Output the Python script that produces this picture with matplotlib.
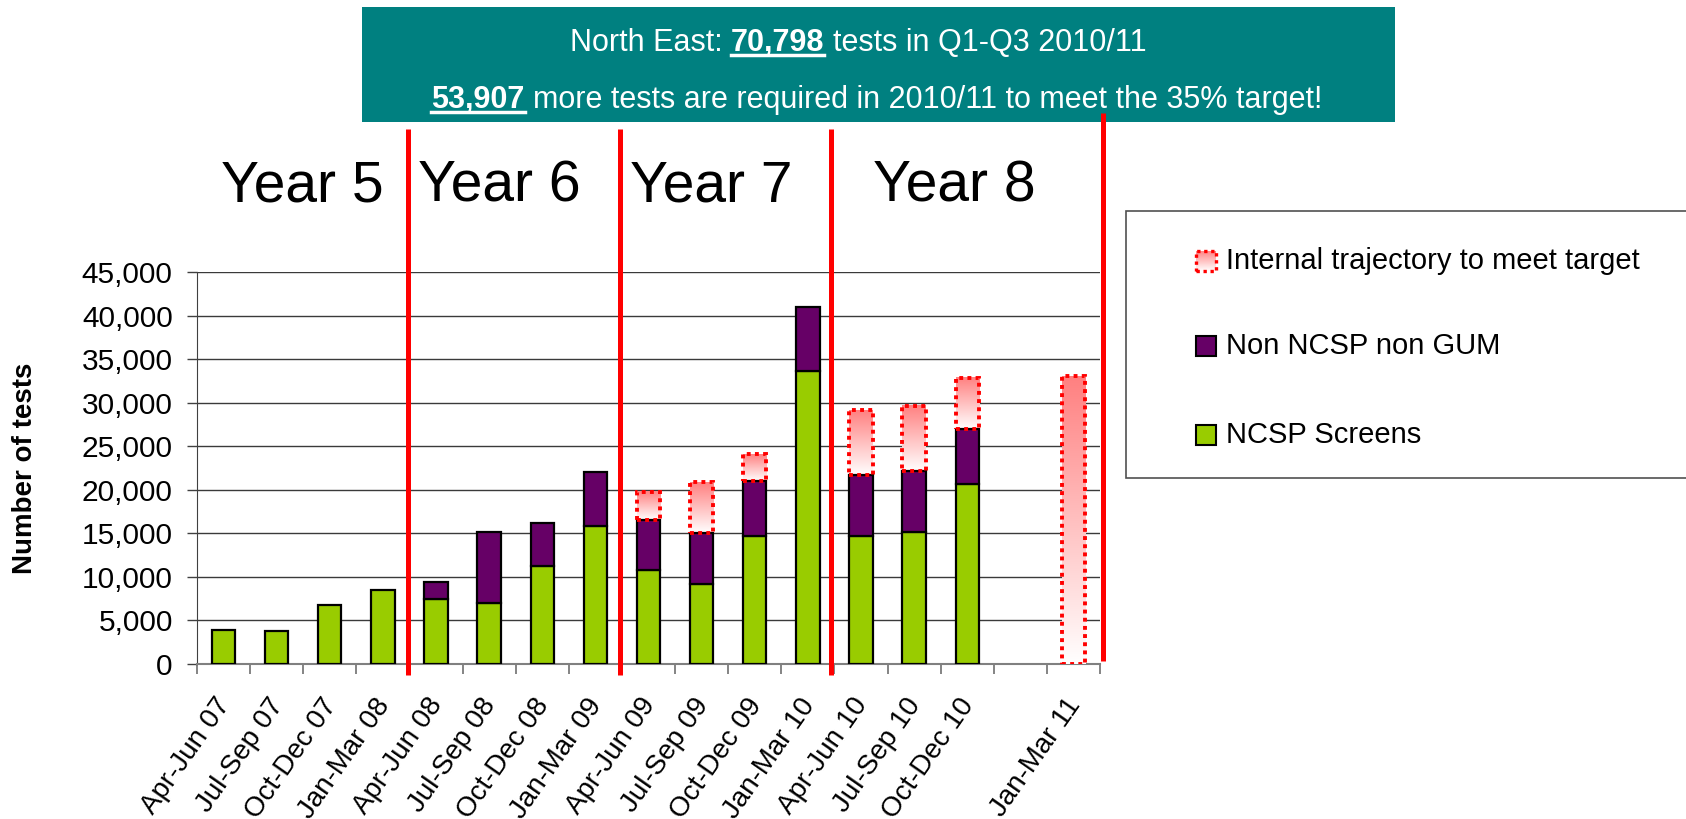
import matplotlib
matplotlib.use("Agg")
import matplotlib.pyplot as plt
import numpy as np
from matplotlib.colors import LinearSegmentedColormap
from matplotlib.lines import Line2D
from matplotlib.patches import Rectangle
from matplotlib.transforms import ScaledTranslation

plt.rcParams["font.family"] = ["Liberation Sans", "DejaVu Sans"]

quarters = ["Apr-Jun 07", "Jul-Sep 07", "Oct-Dec 07", "Jan-Mar 08",
            "Apr-Jun 08", "Jul-Sep 08", "Oct-Dec 08", "Jan-Mar 09",
            "Apr-Jun 09", "Jul-Sep 09", "Oct-Dec 09", "Jan-Mar 10",
            "Apr-Jun 10", "Jul-Sep 10", "Oct-Dec 10", "", "Jan-Mar 11"]
ncsp_screens = [3850, 3800, 6800, 8550, 7450, 7050, 11250, 15800,
                10800, 9150, 14700, 33650, 14700, 15150, 20650, 0, 0]
non_ncsp = [0, 0, 0, 0, 1950, 8100, 4950, 6200,
            5750, 5900, 6350, 7300, 7050, 6950, 6300, 0, 0]
trajectory = [0, 0, 0, 0, 0, 0, 0, 0,
              3250, 5850, 3050, 0, 7450, 7500, 5900, 0, 33050]
year_labels = ["Year 5", "Year 6", "Year 7", "Year 8"]
yticks = list(range(0, 45001, 5000))

W, H = 1686, 819
fig = plt.figure(figsize=(W / 100, H / 100), dpi=100)
ax = fig.add_axes([197 / W, 1 - 664 / H, (1100 - 197) / W, (664 - 272) / H])

x = np.arange(len(quarters))
bw = 0.44
green, purple = "#99CC00", "#660066"
traj_cmap = LinearSegmentedColormap.from_list("traj", ["white", "#FF8080"])
dots = (0, (1.0, 1.1))

for i in x:
    g, p, t = ncsp_screens[i], non_ncsp[i], trajectory[i]
    if g > 0:
        ax.bar(i, g, bw, color=green, edgecolor="black", lw=1.6, zorder=3)
    if p > 0:
        ax.bar(i, p, bw, bottom=g, color=purple, edgecolor="black", lw=1.6, zorder=3)
    if t > 0:
        b = g + p
        grad = np.linspace(0, 1, 256).reshape(-1, 1)
        ax.imshow(grad, extent=(i - bw / 2, i + bw / 2, b, b + t), origin="lower",
                  cmap=traj_cmap, aspect="auto", zorder=2.8)
        ax.add_patch(Rectangle((i - bw / 2, b), bw, t, fill=False, edgecolor="red",
                               lw=2.8, linestyle=dots, zorder=3.5))

ax.set_xlim(-0.5, len(quarters) - 0.5)
ax.set_ylim(0, 45000)
ax.set_yticks(yticks)
ax.set_yticklabels([f"{v:,}" for v in yticks], fontsize=21.5)
ax.yaxis.grid(True, color="#3a3a3a", lw=1.0)
ax.set_axisbelow(True)
ax.tick_params(axis="y", length=7.5, width=1, color="#404040", pad=10)

ax.set_xticks(x)
ax.set_xticklabels(quarters, rotation=55, ha="right", va="top",
                   rotation_mode="anchor", fontsize=20)
ax.set_xticks(np.arange(-0.5, len(quarters), 1), minor=True)
ax.tick_params(axis="x", which="major", length=0, pad=21)
ax.tick_params(axis="x", which="minor", length=7.5, width=1.2, color="#707070")
shift = ScaledTranslation(-9 / 100, 0, fig.dpi_scale_trans)
for lab in ax.get_xticklabels():
    lab.set_transform(lab.get_transform() + shift)

for s in ["top", "right"]:
    ax.spines[s].set_visible(False)
ax.spines["left"].set_color("#404040")
ax.spines["bottom"].set_color("#808080")
ax.spines["bottom"].set_linewidth(1.5)

# red year separators
xt = ax.get_xaxis_transform()
for xs, y0, y1 in [(3.47, -0.028, 1.365), (7.46, -0.028, 1.365),
                   (11.44, -0.028, 1.365), (16.56, 0.008, 1.406)]:
    ax.plot([xs, xs], [y0, y1], color="red", lw=3.6, transform=xt,
            clip_on=False, zorder=6, solid_capstyle="butt")

for lab, cx in zip(year_labels, [302, 499, 711, 954]):
    fig.text(cx / W, 1 - 186 / H, lab, fontsize=41, ha="center", va="center")

fig.text(25 / W, 1 - 468 / H, "Number of tests", rotation=90, fontsize=20,
         fontweight="bold", ha="center", va="center")

# header box
fig.add_artist(Rectangle((362 / W, 1 - 122 / H), (1395 - 362) / W, (122 - 7) / H,
                         transform=fig.transFigure, facecolor="#008080",
                         edgecolor="none", zorder=-1))

renderer = fig.canvas.get_renderer()


def measure(s, **kw):
    t = fig.text(0, 0, s, **kw)
    w = t.get_window_extent(renderer).width
    t.remove()
    return w


def rich_line(pieces, cx, base_y, size):
    kw = dict(fontsize=size, color="white")
    gap = measure("a a", **kw) - measure("aa", **kw)
    widths = [measure(s, fontweight="bold" if b else "normal", **kw) for s, b in pieces]
    total = sum(widths) + gap * (len(pieces) - 1)
    xp = cx - total / 2
    for (s, b), w in zip(pieces, widths):
        fig.text(xp / W, 1 - base_y / H, s, ha="left", va="baseline",
                 fontweight="bold" if b else "normal", **kw)
        if b:
            fig.add_artist(Line2D([xp / W, (xp + w) / W],
                                  [1 - (base_y + 4) / H, 1 - (base_y + 4) / H],
                                  transform=fig.transFigure, color="white", lw=2.5))
        xp += w + gap


rich_line([("North East:", False), ("70,798", True), ("tests in Q1-Q3 2010/11", False)],
          858, 51, 22)
rich_line([("53,907", True), ("more tests are required in 2010/11 to meet the 35% target!", False)],
          877, 108, 22)

# legend
fig.add_artist(Rectangle((1126 / W, 1 - 478 / H), (1700 - 1126) / W, (478 - 211) / H,
                         transform=fig.transFigure, facecolor="white",
                         edgecolor="#505050", lw=1.2, zorder=1))
entries = [("Internal trajectory to meet target", None, 261),
           ("Non NCSP non GUM", purple, 346),
           ("NCSP Screens", green, 435)]
for label, col, yc in entries:
    if col is None:
        lax = fig.add_axes([1196 / W, 1 - (yc + 10) / H, 20 / W, 20 / H], zorder=5)
        lax.imshow(np.linspace(0, 1, 64).reshape(-1, 1), origin="lower",
                   cmap=traj_cmap, aspect="auto", extent=(0, 1, 0, 1))
        lax.add_patch(Rectangle((0, 0), 1, 1, fill=False, edgecolor="red", lw=2.4,
                                linestyle=dots, clip_on=False))
        lax.axis("off")
    else:
        fig.add_artist(Rectangle((1196 / W, 1 - (yc + 10) / H), 20 / W, 20 / H,
                                 transform=fig.transFigure, facecolor=col,
                                 edgecolor="black", lw=1.5, zorder=2))
    fig.text(1226 / W, 1 - yc / H, label, fontsize=21, ha="left", va="center")

fig.savefig("out.png", dpi=100)
plt.close(fig)
